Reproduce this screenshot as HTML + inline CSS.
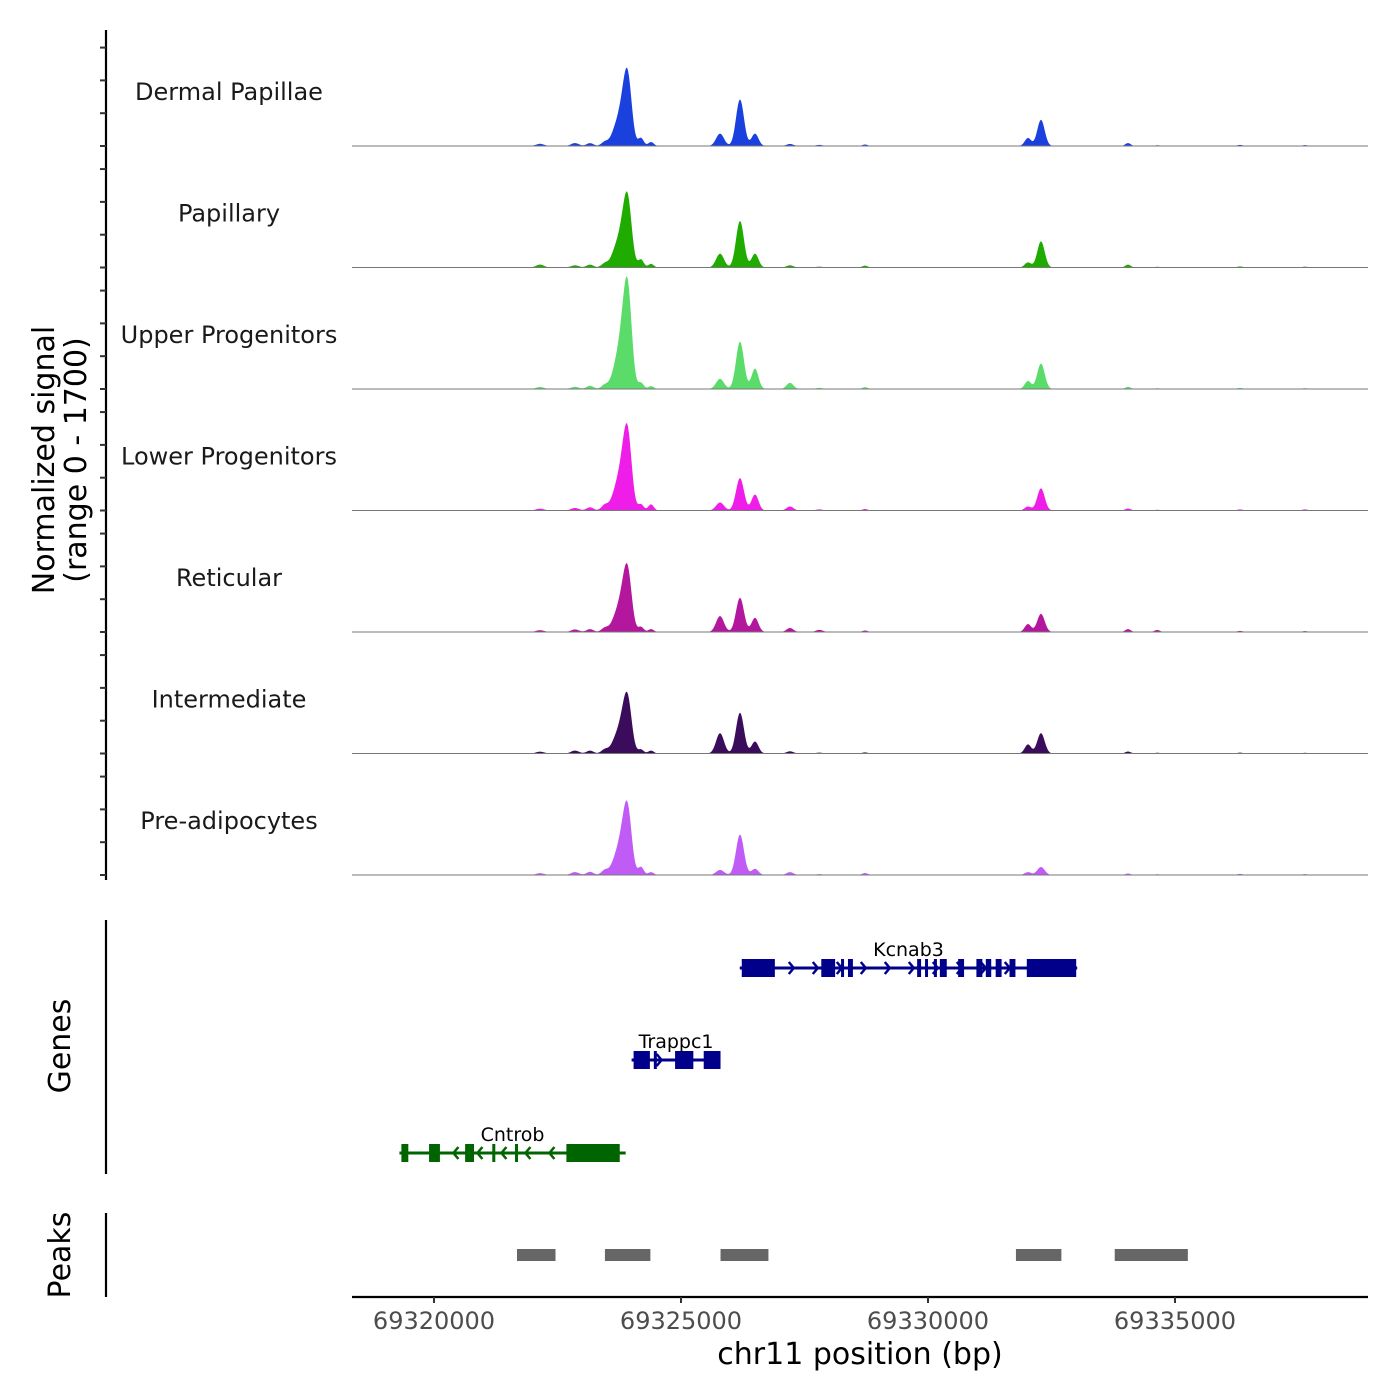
<!DOCTYPE html>
<html><head><meta charset="utf-8"><style>
body{margin:0;background:#fff}
svg{display:block;font-family:"DejaVu Sans","Liberation Sans",sans-serif}
</style></head><body>
<svg id="chart" width="1400" height="1400" viewBox="0 0 1400 1400" xmlns="http://www.w3.org/2000/svg">
<g id="tracks"></g>
<g id="yaxis"></g>
<text transform="translate(54,460) rotate(-90)" text-anchor="middle" font-size="30" fill="#000">Normalized signal</text>
<text transform="translate(86,460) rotate(-90)" text-anchor="middle" font-size="30" fill="#000">(range 0 - 1700)</text>
<g id="genes"></g>
<line x1="106" y1="920" x2="106" y2="1174" stroke="#000" stroke-width="2.2"/>
<text transform="translate(70,1046) rotate(-90)" text-anchor="middle" font-size="30">Genes</text>
<g id="peaks"></g>
<line x1="106" y1="1213" x2="106" y2="1297" stroke="#000" stroke-width="2.2"/>
<text transform="translate(70,1255) rotate(-90)" text-anchor="middle" font-size="30">Peaks</text>
<g id="xaxis"></g>
<text x="860" y="1364" text-anchor="middle" font-size="30">chr11 position (bp)</text>
</svg>
<script>
const trackNames=["Dermal Papillae","Papillary","Upper Progenitors","Lower Progenitors","Reticular","Intermediate","Pre-adipocytes"];
const trackColors=["#1a40dd","#1fab00","#5bdc6a","#ef1de8","#b3179e","#3c0c5c","#c05cf5"];
// peak centers (bp) shared across tracks
const peakPos=[69322146,69322854,69323158,69323462,69323644,69323826,69323927,69324190,69324393,69325790,69326194,69326498,69327206,69327800,69328725,69332024,69332287,69334049,69334640,69336316,69337632];
const peakWidth=[80,80,70,70,80,110,80,55,55,80,80,70,70,70,55,65,75,55,55,55,55];
// signal values (0-1700) per track per peak
const sigDP=[30,40,40,60,120,545,680,110,55,170,640,170,28,15,20,110,360,40,10,15,12];
const sigPap=[40,30,40,60,130,530,660,110,50,190,640,190,30,12,25,70,360,40,10,15,12];
const sigUpper=[28,30,45,60,130,780,980,85,40,140,650,280,85,15,25,110,350,30,10,15,12];
const sigLower=[25,35,45,80,130,640,730,85,85,110,445,220,55,15,20,55,305,28,10,15,15];
const sigRet=[25,35,40,60,100,500,580,70,40,220,470,195,55,30,20,110,250,40,28,15,12];
const sigInt=[25,40,40,60,100,455,515,55,40,280,560,165,30,12,15,125,280,28,10,12,10];
const sigPre=[25,40,45,70,110,550,620,110,40,70,555,85,40,12,28,40,110,20,10,15,12];
const trackSignals=[sigDP,sigPap,sigUpper,sigLower,sigRet,sigInt,sigPre];
const xTicks=[69320000,69325000,69330000,69335000];
const yTickVals=[0,450,900,1350];
const geneNames=["Kcnab3","Trappc1","Cntrob"];
const geneStart=[69326190,69324000,69319300];
const geneEnd=[69333020,69325800,69323880];
const geneStrand=[1,1,-1];
const geneExons=[
 [[69326230,69326900],[69327840,69328120],[69328240,69328280],[69328380,69328480],[69329780,69329860],[69329940,69329980],[69330120,69330180],[69330240,69330380],[69330610,69330730],[69330980,69331100],[69331170,69331280],[69331370,69331490],[69331650,69331770],[69332000,69333000]],
 [[69324040,69324370],[69324450,69324510],[69324880,69325250],[69325460,69325800]],
 [[69319340,69319480],[69319900,69320120],[69320630,69320810],[69321180,69321240],[69321640,69321700],[69322680,69323760]]];
const peakStart=[69321680,69323460,69325800,69331780,69333780];
const peakEnd=[69322460,69324380,69326770,69332700,69335260];

const X0=352,X1=1368,D0=69318340,D1=69338907;
const sx=v=>X0+(v-D0)/(D1-D0)*(X1-X0);
const baseY=i=>146+i*121.5;
const TH=121.5/1700;
const sy=(i,v)=>baseY(i)-v*TH*1.02;
const NS="http://www.w3.org/2000/svg";
function mk(t,p,a){const e=document.createElementNS(NS,t);for(const k in a)e.setAttribute(k,a[k]);p.appendChild(e);return e;}
const tracks=document.getElementById('tracks');
trackNames.forEach((n,i)=>{
  const g=mk('g',tracks,{});
  
  
  const sig=trackSignals[i];
  let d='M'+X0+','+baseY(i);
  for(let px=X0;px<=X1;px+=1){
    const bp=D0+(px-X0)/(X1-X0)*(D1-D0);
    let v=0;
    for(let k=0;k<peakPos.length;k++){const z=(bp-peakPos[k])/peakWidth[k];v+=sig[k]*Math.exp(-0.5*z*z);}
    d+=' L'+px+','+sy(i,v).toFixed(2);
  }
  d+=' L'+X1+','+baseY(i)+' Z';
  const a=mk('path',g,{d:d,fill:trackColors[i]});
  
  
  const l=mk('line',g,{x1:X0,x2:X1,y1:baseY(i),y2:baseY(i),stroke:'#777','stroke-width':1});
  
  
  const t=mk('text',g,{x:229,y:baseY(i)-46,'text-anchor':'middle','font-size':24,fill:'#1a1a1a'});
  t.textContent=n;
  
  
});
const ya=document.getElementById('yaxis');
const yl=mk('line',ya,{x1:106,x2:106,y1:30,y2:880,stroke:'#000','stroke-width':2.2});


for(let i=0;i<7;i++){yTickVals.forEach(v=>{const y=sy(i,v);const t=mk('line',ya,{x1:100,x2:106,y1:y,y2:y,stroke:'#333','stroke-width':2});
 
 });}
// genes
const gg=document.getElementById('genes');
const gy=[968,1060,1153],gc=["#00008b","#00008b","#006400"];
geneNames.forEach((n,i)=>{
  const g=mk('g',gg,{});
  
  
  const y=gy[i],c=gc[i];
  mk('line',g,{x1:sx(geneStart[i]),x2:sx(geneEnd[i]),y1:y,y2:y,stroke:c,'stroke-width':3});
  for(let p=sx(geneStart[i])+30;p<sx(geneEnd[i])-10;p+=24){
    const dx=geneStrand[i]*5;
    mk('polyline',g,{points:(p-dx)+','+(y-6)+' '+p+','+y+' '+(p-dx)+','+(y+6),fill:'none',stroke:c,'stroke-width':2.5});
  }
  geneExons[i].forEach(e=>{const r=mk('rect',g,{x:sx(e[0]),y:y-9,width:Math.max(3,sx(e[1])-sx(e[0])),height:18,fill:c});
   
   });
  const t=mk('text',g,{x:(sx(geneStart[i])+sx(geneEnd[i]))/2,y:y-12,'text-anchor':'middle','font-size':19,fill:'#000'});
  t.textContent=n;
  
  
});
const pg=document.getElementById('peaks');
peakStart.forEach((s,i)=>{const r=mk('rect',pg,{x:sx(s),y:1249,width:sx(peakEnd[i])-sx(s),height:12,fill:'#666'});
 
 });
const xa=document.getElementById('xaxis');
const xl=mk('line',xa,{x1:X0,x2:X1,y1:1297,y2:1297,stroke:'#000','stroke-width':2.2});


xTicks.forEach(v=>{const x=sx(v);
 const t=mk('line',xa,{x1:x,x2:x,y1:1297,y2:1303,stroke:'#333','stroke-width':2});
 
 
 const l=mk('text',xa,{x:x,y:1329,'text-anchor':'middle','font-size':24,fill:'#4d4d4d'});
 l.textContent=v;
 
 });
</script>
</body></html>
